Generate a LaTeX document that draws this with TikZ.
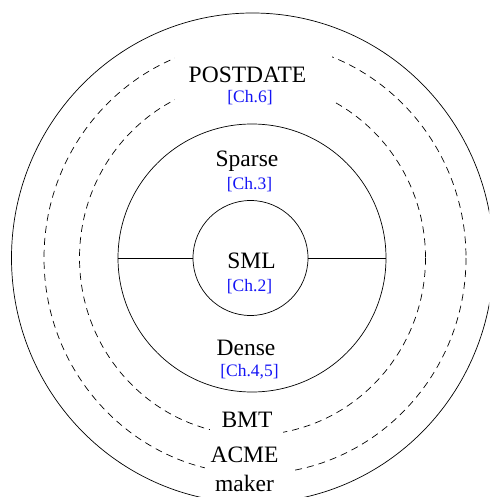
\documentclass[tikz,border=0pt]{standalone}
\usepackage{fontspec}
\setmainfont{Liberation Serif}
\definecolor{chblue}{RGB}{20,20,245}
\begin{document}
\begin{tikzpicture}[x=1pt,y=-1pt,
  ring/.style={draw=black,line width=0.7pt},
  dashring/.style={draw=black,line width=0.7pt,dash pattern=on 7pt off 5pt},
  cover/.style={fill=white,draw=none,inner sep=0pt},
  lab/.style={anchor=base,inner sep=0pt,font=\fontsize{23.5}{26}\selectfont},
  chap/.style={anchor=base,inner sep=0pt,text=chblue,font=\fontsize{17.5}{20}\selectfont}]
\useasboundingbox (0,0) rectangle (489,497);
\clip (0,0) rectangle (489,497);
\coordinate (c) at (252.5,258);
\coordinate (c2) at (255,258);
\draw[ring] (c) ellipse [x radius=241, y radius=245];
\draw[dashring] (c2) ellipse [x radius=211, y radius=216];
\draw[dashring] (c) ellipse [x radius=173, y radius=177];
\node[cover,minimum width=157pt,minimum height=72pt] (topbox) at (253.5,74) {};
\node[cover,minimum width=73pt,minimum height=34pt] (bmtbox) at (246.5,422) {};
\node[cover,minimum width=87pt,minimum height=60pt] (acmebox) at (248.5,470) {};
\node[circle,ring,minimum size=268pt,inner sep=0pt] (mid) at (252,258) {};
\node[circle,ring,minimum size=115pt,inner sep=0pt] (sml) at (250.5,258) {};
\draw[ring] (mid.west) -- (sml.west);
\draw[ring] (sml.east) -- (mid.east);
\node[lab] (postdate) at (247.5,83) {POSTDATE};
\node[chap] (ch6) at (250,103) {[Ch.6]};
\node[lab] (sparse) at (247,167) {Sparse};
\node[chap] (ch3) at (249.5,189) {[Ch.3]};
\node[lab] (smltext) at (251.5,268) {SML};
\node[chap] (ch2) at (249.5,291) {[Ch.2]};
\node[lab] (dense) at (246,355) {Dense};
\node[chap] (ch45) at (249.5,376) {[Ch.4,5]};
\node[lab] (bmt) at (247,427) {BMT};
\node[lab] (acme) at (244.5,462) {ACME};
\node[lab] (maker) at (244.5,491) {maker};
\end{tikzpicture}
\end{document}
